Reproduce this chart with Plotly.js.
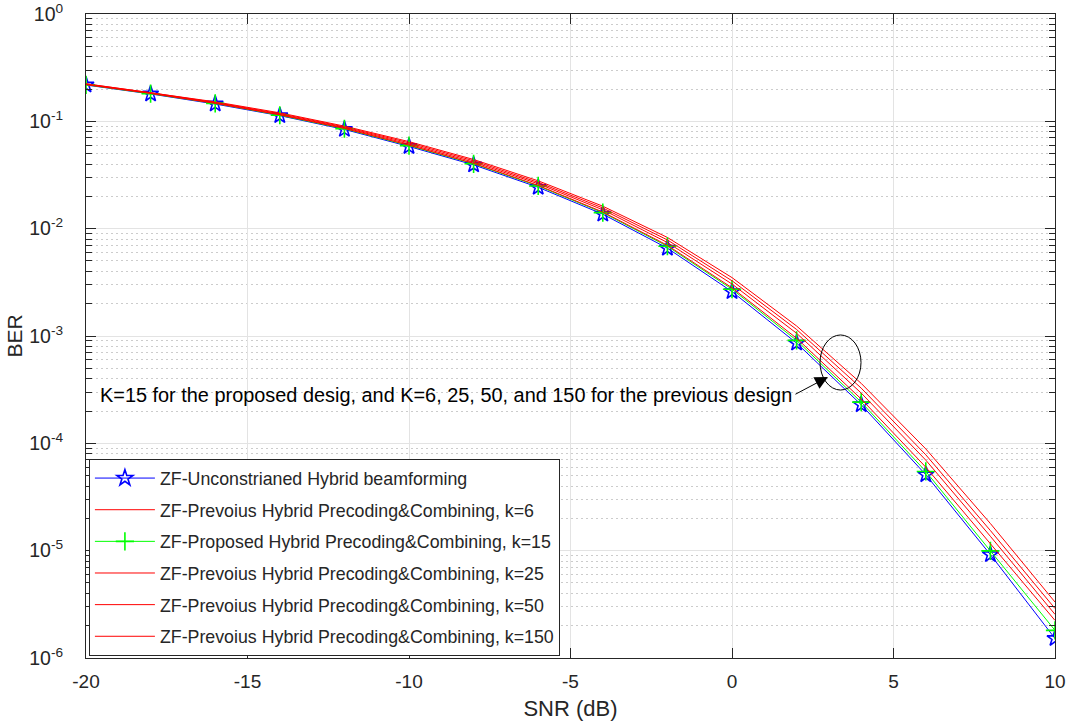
<!DOCTYPE html>
<html>
<head>
<meta charset="utf-8">
<script src="https://cdn.plot.ly/plotly-3.0.1.min.js"></script>
<style>
  html, body { margin: 0; padding: 0; background: #ffffff; }
  #chart { width: 1067px; height: 725px; }
</style>
</head>
<body>
<div id="chart"></div>
<script>
// SNR grid (dB)
const snr = [-20, -18, -16, -14, -12, -10, -8, -6, -4, -2, 0, 2, 4, 6, 8, 10];

// BER curves
const berUnconstrained = [0.218, 0.180, 0.145, 0.113, 0.0841, 0.0583, 0.0393, 0.0243, 0.01365, 0.00658, 0.00259, 8.59e-4, 2.29e-4, 5.10e-5, 9.18e-6, 1.52e-6];
const berProposedK15   = [0.219, 0.181, 0.147, 0.114, 0.0853, 0.0594, 0.0402, 0.0250, 0.0141, 0.00686, 0.00273, 9.10e-4, 2.42e-4, 5.47e-5, 9.95e-6, 1.81e-6];
const berPrevK150      = [0.220, 0.182, 0.147, 0.115, 0.0859, 0.0600, 0.0406, 0.0253, 0.0143, 0.00700, 0.00281, 9.53e-4, 2.59e-4, 6.00e-5, 1.16e-5, 2.24e-6];
const berPrevK50       = [0.221, 0.183, 0.149, 0.116, 0.0873, 0.0614, 0.0417, 0.0262, 0.0150, 0.00743, 0.00305, 1.06e-3, 2.94e-4, 6.97e-5, 1.36e-5, 2.55e-6];
const berPrevK25       = [0.223, 0.185, 0.150, 0.118, 0.0887, 0.0631, 0.0429, 0.0270, 0.0156, 0.00785, 0.00327, 1.15e-3, 3.27e-4, 7.82e-5, 1.54e-5, 2.89e-6];
const berPrevK6        = [0.224, 0.186, 0.152, 0.120, 0.0902, 0.0647, 0.0441, 0.0279, 0.0162, 0.00828, 0.00350, 1.24e-3, 3.62e-4, 8.87e-5, 1.79e-5, 3.32e-6];

// Axis ticks
const xTickVals = [-20, -15, -10, -5, 0, 5, 10];
const xTickText = ['-20', '-15', '-10', '-5', '0', '5', '10'];
const yTickVals = [1e-6, 1e-5, 1e-4, 1e-3, 1e-2, 1e-1, 1];
const yTickText = ['10<sup>-6</sup>', '10<sup>-5</sup>', '10<sup>-4</sup>', '10<sup>-3</sup>', '10<sup>-2</sup>', '10<sup>-1</sup>', '10<sup>0</sup>'];

// Legend labels
const names = [
  'ZF-Unconstrianed Hybrid beamforming',
  'ZF-Prevoius Hybrid Precoding&Combining, k=6',
  'ZF-Proposed Hybrid Precoding&Combining, k=15',
  'ZF-Prevoius Hybrid Precoding&Combining, k=25',
  'ZF-Prevoius Hybrid Precoding&Combining, k=50',
  'ZF-Prevoius Hybrid Precoding&Combining, k=150'
];

const noteText = 'K=15 for the proposed desig, and K=6, 25, 50, and 150 for the previous design';

// minor grid positions (2..9 within each decade)
const minorVals = [];
for (let e = -6; e < 0; e++) {
  for (let m = 2; m <= 9; m++) minorVals.push(m * Math.pow(10, e));
}

const FONT = 'Arial, "Liberation Sans", Helvetica, sans-serif';
const AX = '#262626';

function redTrace(y, name, group) {
  return {
    x: snr, y: y, name: name, legendgroup: group,
    type: 'scatter', mode: 'lines',
    line: { color: '#ff0000', width: 1 }
  };
}

const traces = [
  {
    x: snr, y: berUnconstrained, name: names[0], legendgroup: 'g0',
    type: 'scatter', mode: 'lines+markers',
    line: { color: '#0000ff', width: 1 },
    marker: { symbol: 'star-open', size: 12, color: '#0000ff', line: { color: '#0000ff', width: 1.6 } }
  },
  redTrace(berPrevK6, names[1], 'g1'),
  {
    x: snr, y: berProposedK15, name: names[2], legendgroup: 'g2',
    type: 'scatter', mode: 'lines+markers',
    line: { color: '#00ff00', width: 1 },
    marker: { symbol: 'cross-thin-open', size: 13, color: '#00ff00', line: { color: '#00ff00', width: 1.6 } }
  },
  redTrace(berPrevK25, names[3], 'g3'),
  redTrace(berPrevK50, names[4], 'g4'),
  redTrace(berPrevK150, names[5], 'g5')
];

const layout = {
  width: 1067, height: 725,
  margin: { l: 86, r: 12, t: 14, b: 67, pad: 0 },
  paper_bgcolor: '#ffffff', plot_bgcolor: '#ffffff',
  font: { family: FONT, color: AX, size: 18 },
  showlegend: true,
  legend: {
    x: 0.003, y: 0.309, xanchor: 'left', yanchor: 'top',
    bgcolor: '#ffffff', bordercolor: AX, borderwidth: 1,
    font: { family: FONT, size: 17.8, color: AX },
    tracegroupgap: 5.5, itemwidth: 60,
    traceorder: 'grouped'
  },
  xaxis: {
    range: [-20, 10], type: 'linear',
    tickvals: xTickVals, ticktext: xTickText,
    ticks: 'inside', ticklen: 10, tickcolor: AX, tickwidth: 1,
    showline: true, linecolor: AX, linewidth: 1, mirror: 'ticks',
    showgrid: true, gridcolor: '#e3e3e3', gridwidth: 1,
    zeroline: false,
    tickfont: { family: FONT, size: 19, color: AX },
    ticklabelstandoff: 6,
    title: { text: 'SNR (dB)', font: { family: FONT, size: 22, color: AX }, standoff: 9 }
  },
  yaxis: {
    type: 'log', range: [-6, 0],
    tickvals: yTickVals, ticktext: yTickText,
    ticks: 'inside', ticklen: 10, tickcolor: AX, tickwidth: 1,
    showline: true, linecolor: AX, linewidth: 1, mirror: 'ticks',
    showgrid: true, gridcolor: '#e3e3e3', gridwidth: 1,
    zeroline: false,
    tickfont: { family: FONT, size: 19.5, color: AX },
    ticklabelstandoff: 18,
    minor: {
      tickvals: minorVals, ticks: 'inside', ticklen: 6, tickcolor: AX,
      showgrid: true, gridcolor: '#cccccc', griddash: '1.5px,3.5px', gridwidth: 1
    },
    title: { text: 'BER', font: { family: FONT, size: 21, color: AX }, standoff: 0 }
  },
  shapes: [
    {
      type: 'circle', xref: 'paper', yref: 'paper',
      x0: 0.7575, x1: 0.7998, y0: 0.4161, y1: 0.5016,
      line: { color: '#000000', width: 1 }, fillcolor: 'rgba(0,0,0,0)'
    }
  ],
  annotations: [
    {
      xref: 'paper', yref: 'paper', x: 0.3715, y: 0.4084,
      xanchor: 'center', yanchor: 'middle',
      text: noteText, showarrow: false,
      font: { family: FONT, size: 19.9, color: '#000000' }
    },
    {
      xref: 'paper', yref: 'paper', x: 0.7657, y: 0.4363,
      text: ' ', showarrow: true,
      arrowhead: 2, arrowsize: 2.6, arrowwidth: 1, arrowcolor: '#000000',
      ax: -34, ay: 18,
      font: { family: FONT, size: 1, color: '#000000' }
    }
  ]
};

Plotly.newPlot('chart', traces, layout, { displayModeBar: false, staticPlot: true });
</script>
</body>
</html>
